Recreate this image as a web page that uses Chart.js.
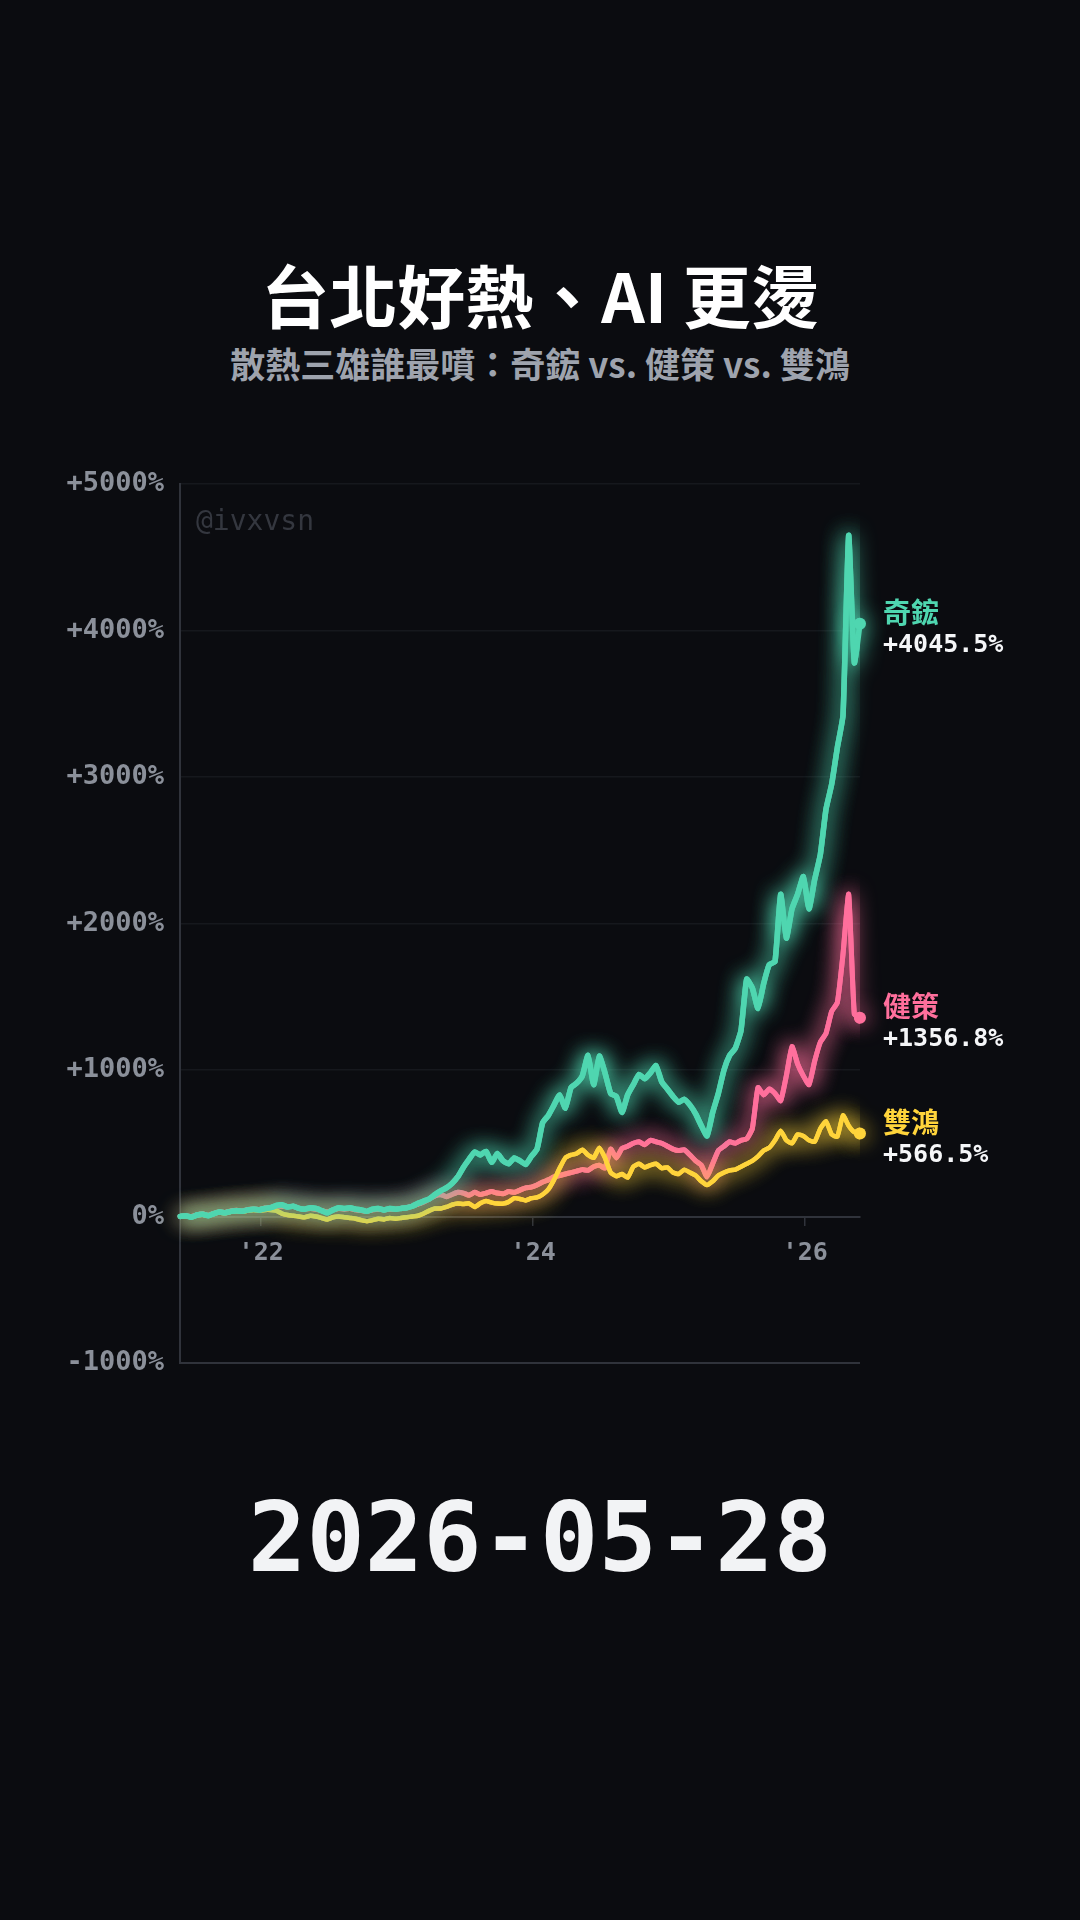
<!DOCTYPE html>
<html lang="zh-Hant">
<head>
<meta charset="utf-8">
<title>台北好熱、AI 更燙</title>
<script src="https://cdn.jsdelivr.net/npm/chart.js@4.4.1/dist/chart.umd.min.js"></script>
<style>
  html, body { margin: 0; padding: 0; background: #0b0c10; }
  body { width: 1080px; height: 1920px; position: relative; overflow: hidden; font-family: "Noto Sans CJK TC", sans-serif; }
  .c { position: absolute; left: 540px; transform: translate(-50%, -50%); white-space: nowrap; line-height: 1; }
  #title { top: 294px; font-size: 68px; font-weight: 700; color: #ffffff; }
  #subtitle { top: 362px; font-size: 35px; font-weight: 700; color: #9ea3ad; }
  #date { top: 1537px; font-family: "DejaVu Sans Mono", monospace; font-weight: 700; font-size: 97px; color: #f2f3f5; }
  #wrap { position: absolute; left: 0; top: 440px; width: 1080px; height: 960px; }
  #watermark { position: absolute; left: 196px; top: 521px; transform: translateY(-50%); font-family: "DejaVu Sans Mono", monospace; font-size: 28px; color: #34373f; line-height: 1; }
  .end { position: absolute; left: 883px; transform: translateY(-50%); line-height: 1; white-space: nowrap; }
  .end .n { font-size: 28px; font-weight: 700; }
  .end .v { font-family: "DejaVu Sans Mono", monospace; font-weight: 700; font-size: 25px; color: #f5f6f8; margin-top: 6px; }
</style>
</head>
<body>
<div id="title" class="c">台北好熱、AI 更燙</div>
<div id="subtitle" class="c">散熱三雄誰最噴：奇鋐 vs. 健策 vs. 雙鴻</div>
<div id="wrap"><canvas id="chart"></canvas></div>
<div id="watermark">@ivxvsn</div>
<div id="end0" class="end"><div class="n" style="color:#4fd6b0">奇鋐</div><div class="v">+4045.5%</div></div>
<div id="end1" class="end"><div class="n" style="color:#ff6f9c">健策</div><div class="v">+1356.8%</div></div>
<div id="end2" class="end"><div class="n" style="color:#ffd43b">雙鴻</div><div class="v">+566.5%</div></div>
<div id="date" class="c">2026-05-28</div>

<script>
// 2021-05-28 到 2026-05-28，每半個月一點（年份小數）
const startYear = 2021.403;
const stepsPerYear = 24;
const dates = [];
for (let i = 0; i <= 120; i++) dates.push(startYear + i / stepsPerYear);

const names = ['奇鋐', '健策', '雙鴻'];
const colors = ['#4fd6b0', '#ff6f9c', '#ffd43b'];
const tickYears = [2022, 2024, 2026];

// 累計報酬 (%)
const qihong = [
  0, 5, -5, 10, 15, 5, 20, 30, 25, 35,
  40, 35, 45, 50, 45, 55, 60, 75, 80, 65,
  70, 55, 50, 60, 55, 40, 25, 45, 60, 55,
  60, 50, 45, 35, 50, 55, 45, 55, 50, 55,
  60, 70, 90, 105, 120, 150, 175, 195, 225, 270,
  335, 390, 440, 420, 445, 370, 430, 380, 360, 400,
  380, 355, 410, 460, 640, 690, 760, 830, 740, 880,
  910, 960, 1100, 900, 1095, 980, 840, 820, 710, 830,
  900, 970, 940, 980, 1030, 920, 870, 820, 780, 800,
  760, 700, 620, 550, 710, 840, 1000, 1100, 1150, 1270,
  1620, 1560, 1420, 1590, 1720, 1740, 2200, 1900, 2100, 2200,
  2320, 2100, 2300, 2470, 2780, 2950, 3200, 3420, 4650, 3780,
  4045.5
];
const jiance = [
  0, 5, 0, 10, 18, 8, 22, 32, 28, 38,
  42, 38, 48, 52, 48, 58, 62, 72, 70, 65,
  70, 55, 50, 55, 50, 40, 30, 45, 55, 50,
  55, 45, 40, 35, 45, 50, 45, 50, 50, 55,
  60, 70, 85, 100, 120, 140, 150, 135, 150, 165,
  160, 145, 165, 150, 160, 170, 160, 155, 170, 165,
  180, 195, 200, 215, 235, 250, 270, 280, 290, 300,
  310, 320, 315, 340, 350, 330, 460, 400, 465, 480,
  500, 510, 490, 520, 510, 500, 480, 460, 450, 455,
  420, 380, 350, 270, 360, 450, 480, 510, 500, 520,
  530, 600, 880, 830, 870, 840, 790, 960, 1160, 1040,
  960, 900, 1060, 1190, 1250, 1400, 1460, 1790, 2200, 1380,
  1356.8
];
const shuanghong = [
  0, 3, -5, 8, 12, 5, 18, 27, 22, 32,
  36, 32, 40, 45, 40, 45, 45, 40, 20, 10,
  5, 0, -5, 5, 0, -10, -20, -5, 0, -5,
  -10, -15, -25, -32, -25, -15, -20, -10, -15, -10,
  -5, 0, 5, 20, 40, 55, 55, 65, 80, 88,
  85, 90, 65, 90, 105, 95, 88, 88, 100, 125,
  120, 110, 125, 130, 150, 185, 250, 330, 400, 420,
  430, 455, 420, 400, 470, 400, 300, 275, 290, 265,
  340, 360, 335, 350, 360, 330, 335, 300, 290, 320,
  300, 280, 240, 215, 240, 280, 300, 315, 320, 340,
  360, 380, 410, 450, 470, 520, 585, 520, 500, 560,
  550, 520, 510, 600, 650, 560, 545, 690, 620, 575,
  566.5
];
const series = [qihong, jiance, shuanghong];

const wrapTop = 440;
const gridLine = '#30333b';
const gridFaint = '#16181d';
const tickColor = '#8b909a';

// 線條發光：帶陰影畫兩次
const glow = {
  id: 'glow',
  beforeDatasetDraw(chart, args) {
    const ds = chart.data.datasets[args.index];
    chart.ctx.save();
    chart.ctx.shadowColor = ds.borderColor;
    chart.ctx.shadowBlur = 22;
  },
  afterDatasetDraw(chart, args) {
    args.meta.controller.draw();
    chart.ctx.restore();
  }
};

// 右側標籤跟著最後一點
const endLabels = {
  id: 'endLabels',
  afterDraw(chart) {
    const y = chart.scales.y;
    series.forEach((arr, i) => {
      const el = document.getElementById('end' + i);
      el.style.top = (wrapTop + y.getPixelForValue(arr[arr.length - 1]) + 2) + 'px';
    });
  }
};

const drawOrder = [1, 3, 2];
const lineWidths = [5.5, 5, 4.5];

new Chart(document.getElementById('chart'), {
  type: 'line',
  data: {
    datasets: series.map((arr, i) => ({
      label: names[i],
      data: arr.map((v, j) => ({ x: dates[j], y: v })),
      borderColor: colors[i],
      backgroundColor: colors[i],
      borderWidth: lineWidths[i],
      borderJoinStyle: 'round',
      borderCapStyle: 'round',
      tension: 0.15,
      pointRadius: ctx => ctx.dataIndex === arr.length - 1 ? 6 : 0,
      pointBorderWidth: 0,
      pointHoverRadius: 0,
      order: drawOrder[i]
    }))
  },
  options: {
    responsive: true,
    maintainAspectRatio: false,
    animation: false,
    layout: { padding: { left: 0, top: 44, right: 220, bottom: 37 } },
    plugins: { legend: { display: false }, tooltip: { enabled: false } },
    scales: {
      x: {
        type: 'linear',
        position: { y: 0 },
        min: dates[0],
        max: dates[dates.length - 1],
        afterBuildTicks: scale => { scale.ticks = tickYears.map(v => ({ value: v })); },
        ticks: {
          color: tickColor,
          padding: 14,
          font: { family: 'DejaVu Sans Mono', size: 25, weight: 'bold' },
          callback: v => "'" + String(v).slice(2)
        },
        grid: { drawOnChartArea: false, drawTicks: true, tickLength: 8, color: gridLine, lineWidth: 1.5 },
        border: { display: true, color: gridLine, width: 2 }
      },
      y: {
        min: -1000,
        max: 5000,
        afterFit: scale => { scale.width = 180; },
        ticks: {
          stepSize: 1000,
          color: tickColor,
          padding: 16,
          font: { family: 'DejaVu Sans Mono', size: 27, weight: 'bold' },
          callback: v => (v > 0 ? '+' : '') + v + '%'
        },
        grid: {
          drawTicks: false,
          color: ctx => (ctx.tick && (ctx.tick.value === -1000 || ctx.tick.value === 0)) ? gridLine : gridFaint,
          lineWidth: ctx => (ctx.tick && ctx.tick.value === -1000) ? 2 : 1.5
        },
        border: { display: true, color: gridLine, width: 2 }
      }
    }
  },
  plugins: [glow, endLabels]
});
</script>
</body>
</html>
